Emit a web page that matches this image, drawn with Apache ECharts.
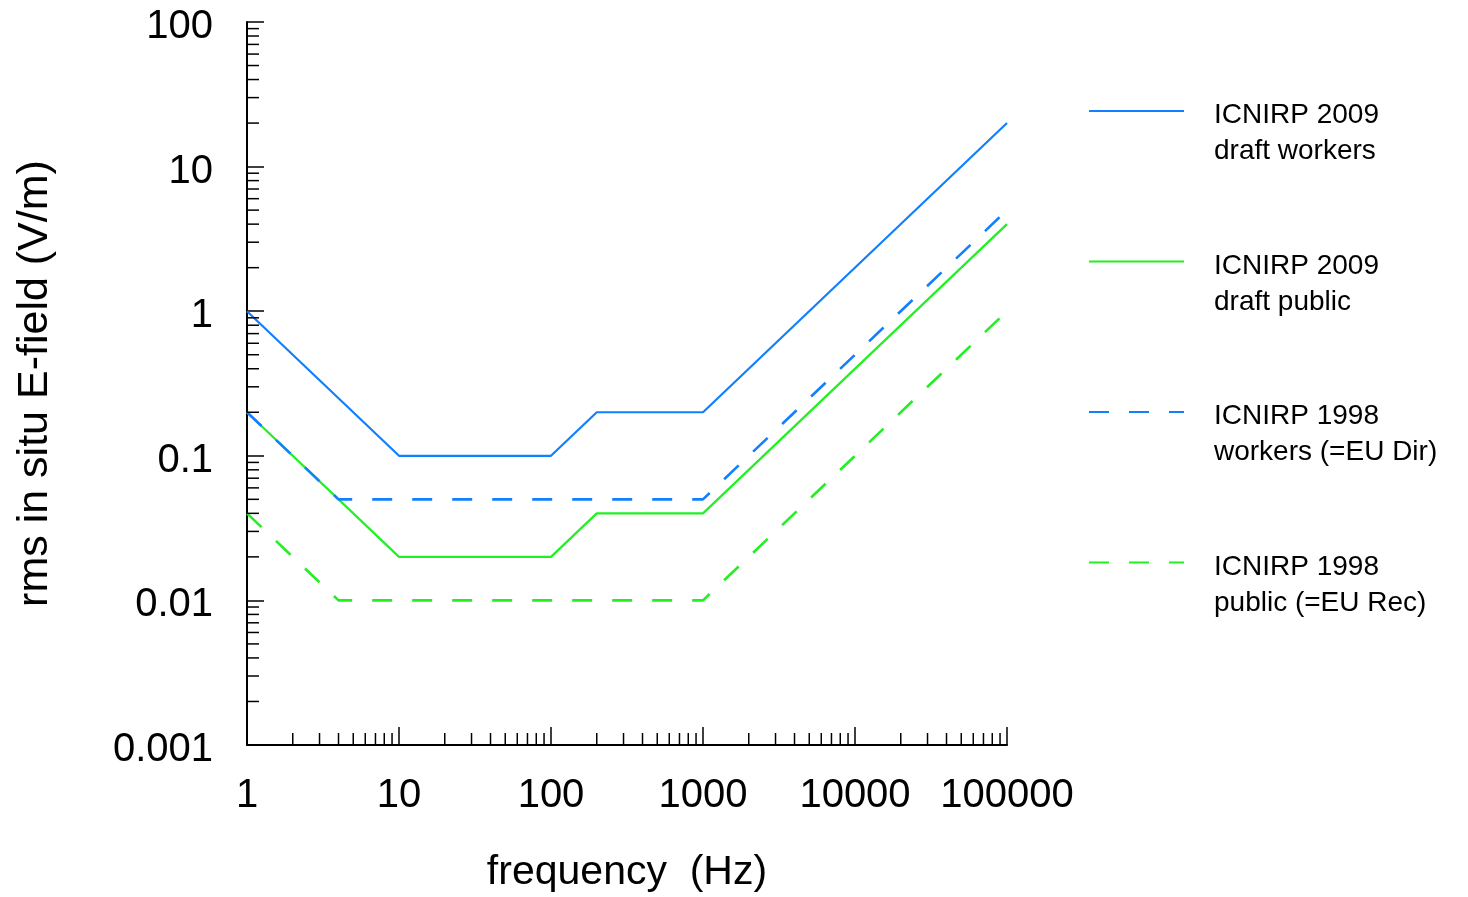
<!DOCTYPE html>
<html>
<head>
<meta charset="utf-8">
<script src="https://cdn.jsdelivr.net/npm/echarts@6/dist/echarts.min.js"></script>
<style>html,body{margin:0;padding:0;background:#fff;}#c{width:1468px;height:897px;}</style>
</head>
<body>
<div id="c"></div>
<script>
// ---- data ----
const seriesNames = ['ICNIRP 2009 draft workers', 'ICNIRP 2009 draft public', 'ICNIRP 1998 workers (=EU Dir)', 'ICNIRP 1998 public (=EU Rec)'];
const legendLine1 = ['ICNIRP 2009', 'ICNIRP 2009', 'ICNIRP 1998', 'ICNIRP 1998'];
const legendLine2 = ['draft workers', 'draft public', 'workers (=EU Dir)', 'public (=EU Rec)'];
const workers2009 = [[1, 1], [10, 0.1], [100, 0.1], [200, 0.2], [1000, 0.2], [100000, 20]];
const public2009 = [[1, 0.2], [10, 0.02], [100, 0.02], [200, 0.04], [1000, 0.04], [100000, 4]];
const workers1998 = [[1, 0.2], [4, 0.05], [1000, 0.05], [100000, 5]];
const public1998 = [[1, 0.04], [4, 0.01], [1000, 0.01], [100000, 1]];
const xTickLabels = ['1', '10', '100', '1000', '10000', '100000'];
const yTickLabels = ['0.001', '0.01', '0.1', '1', '10', '100'];
const xMinorTicks = [2,3,4,5,6,7,8,9, 20,30,40,50,60,70,80,90, 200,300,400,500,600,700,800,900, 2000,3000,4000,5000,6000,7000,8000,9000, 20000,30000,40000,50000,60000,70000,80000,90000];
const yMinorTicks = [0.002,0.003,0.004,0.005,0.006,0.007,0.008,0.009, 0.02,0.03,0.04,0.05,0.06,0.07,0.08,0.09, 0.2,0.3,0.4,0.5,0.6,0.7,0.8,0.9, 2,3,4,5,6,7,8,9, 20,30,40,50,60,70,80,90];

const BLUE = '#1080ff';
const GREEN = '#22f022';
const X_MIN = 1, X_MAX = 100000, Y_MIN = 0.001, Y_MAX = 100;
const FONT = 'Liberation Sans, Arial, sans-serif';

function pickLabel(list, v) {
  const s = list.find(t => Math.abs(Math.log10(+t) - Math.log10(v)) < 1e-6);
  return s || '';
}

const chart = echarts.init(document.getElementById('c'), null, {renderer: 'canvas'});

chart.setOption({
  backgroundColor: '#fff',
  animation: false,
  grid: {left: 247, right: 461, top: 22, bottom: 152, containLabel: false, outerBoundsMode: 'none'},
  xAxis: {
    type: 'log', logBase: 10, min: X_MIN, max: X_MAX, splitNumber: 5,
    name: 'frequency  (Hz)', nameLocation: 'middle', nameGap: 107,
    nameTextStyle: {fontFamily: FONT, fontSize: 41, color: '#000'},
    axisLine: {lineStyle: {color: '#000', width: 2}},
    axisTick: {inside: true, length: 18, lineStyle: {color: '#000', width: 1.5}},
    axisLabel: {margin: 31, formatter: v => pickLabel(xTickLabels, v), showMinLabel: true, showMaxLabel: true,
      fontFamily: FONT, fontSize: 40, color: '#000'},
    splitLine: {show: false}
  },
  yAxis: {
    type: 'log', logBase: 10, min: Y_MIN, max: Y_MAX, splitNumber: 5,
    name: 'rms in situ E-field (V/m)', nameLocation: 'middle', nameGap: 190,
    nameTextStyle: {fontFamily: FONT, fontSize: 43, color: '#000'},
    axisLine: {lineStyle: {color: '#000', width: 2}},
    axisTick: {inside: true, length: 17, lineStyle: {color: '#000', width: 1.5}},
    axisLabel: {margin: 34, formatter: v => '{v|' + pickLabel(yTickLabels, v) + '}', showMinLabel: true, showMaxLabel: true,
      fontFamily: FONT, fontSize: 40, color: '#000',
      rich: {v: {fontFamily: FONT, fontSize: 40, color: '#000', lineHeight: 40, padding: [10, 0, 0, 0]}}},
    splitLine: {show: false}
  },
  legend: {
    data: seriesNames,
    orient: 'vertical', left: 1088, top: 61, padding: 0,
    itemWidth: 95, itemHeight: 14, itemGap: 46,
    selectedMode: false,
    itemStyle: {opacity: 0},
    textStyle: {
      fontFamily: FONT, fontSize: 28, color: '#000', padding: [0, 0, 0, 25],
      rich: {
        e: {fontFamily: FONT, fontSize: 28, lineHeight: 45, color: '#000'},
        a: {fontFamily: FONT, fontSize: 28, lineHeight: 36, color: '#000'}
      }
    },
    formatter: name => {
      const i = seriesNames.indexOf(name);
      return '{e| }\n{a|' + legendLine1[i] + '}\n{a|' + legendLine2[i] + '}';
    }
  },
  series: [
    {name: seriesNames[0], type: 'line', data: workers2009, symbol: 'none', lineStyle: {color: BLUE, width: 2.2}, itemStyle: {color: BLUE}},
    {name: seriesNames[1], type: 'line', data: public2009, symbol: 'none', lineStyle: {color: GREEN, width: 2.2}, itemStyle: {color: GREEN}},
    {name: seriesNames[2], type: 'line', data: workers1998, symbol: 'none', lineStyle: {color: BLUE, width: 2.6, type: [20, 20]}, itemStyle: {color: BLUE}},
    {name: seriesNames[3], type: 'line', data: public1998, symbol: 'none', lineStyle: {color: GREEN, width: 2.6, type: [20, 20]}, itemStyle: {color: GREEN}},
    {
      type: 'custom', silent: true, clip: false, z: 5,
      data: xMinorTicks.map(v => [v, Y_MIN]),
      renderItem: (params, api) => {
        const p = api.coord([api.value(0), api.value(1)]);
        return {type: 'line', shape: {x1: p[0], y1: p[1], x2: p[0], y2: p[1] - 12}, style: {stroke: '#000', lineWidth: 1.5}};
      }
    },
    {
      type: 'custom', silent: true, clip: false, z: 5,
      data: yMinorTicks.map(v => [X_MIN, v]),
      renderItem: (params, api) => {
        const p = api.coord([api.value(0), api.value(1)]);
        return {type: 'line', shape: {x1: p[0], y1: p[1], x2: p[0] + 12, y2: p[1]}, style: {stroke: '#000', lineWidth: 1.5}};
      }
    }
  ]
});
</script>
</body>
</html>
